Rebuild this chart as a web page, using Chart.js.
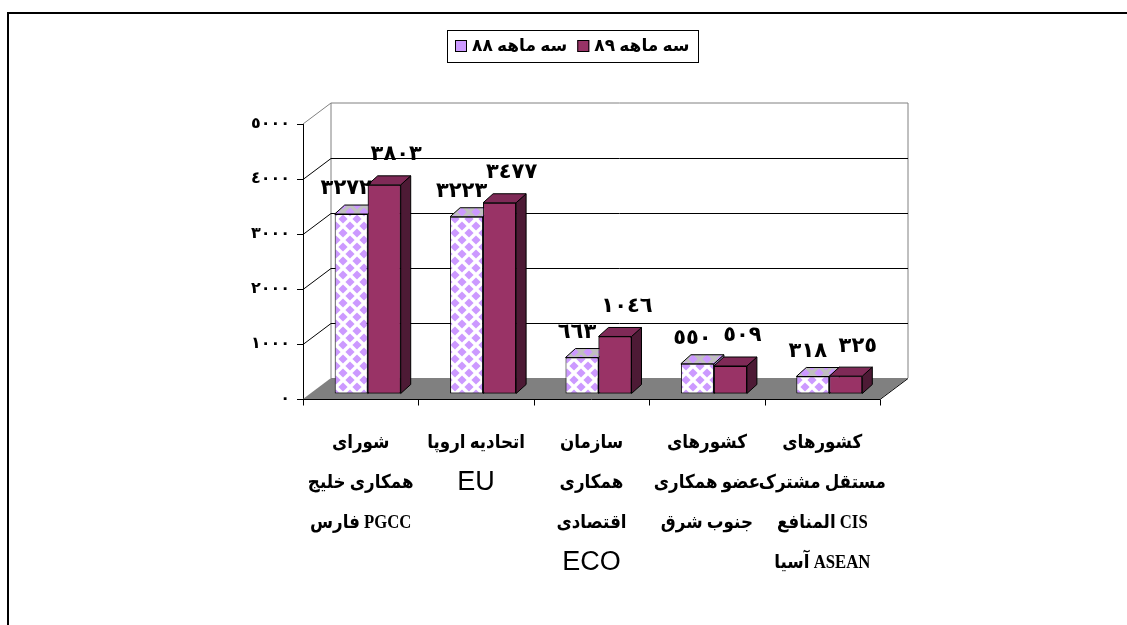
<!DOCTYPE html>
<html>
<head>
<meta charset="utf-8">
<script src="https://cdn.jsdelivr.net/npm/chart.js@4.4.0/dist/chart.umd.min.js"></script>
<style>
  html, body { margin: 0; background: #fff; }
  #wrap { width: 1127px; height: 625px; position: relative; }
</style>
</head>
<body>
<div id="wrap"><canvas id="chart"></canvas></div>
<script>
// category labels, one array of lines each
const categories = [
  ['شورای', 'همکاری خلیج', 'فارس PGCC'],
  ['اتحادیه اروپا', 'EU'],
  ['سازمان', 'همکاری', 'اقتصادی', 'ECO'],
  ['کشورهای', 'عضو همکاری', 'جنوب شرق'],
  ['کشورهای', 'مستقل مشترک', 'المنافع CIS', 'آسیا ASEAN'],
];
const seriesNames = ['سه ماهه ٨٨', 'سه ماهه ٨٩'];
const q88 = [3272, 3223, 663, 550, 318];
const q89 = [3803, 3477, 1046, 509, 325];
const yTicks = [0, 1000, 2000, 3000, 4000, 5000];

const WALL = { x: 28, y: -21 };   // depth of floor / walls
const BOX = { x: 10, y: -9 };     // depth of each bar
const SHIFT = { x: 7, y: -5 };    // bars sit half way into the floor

const SERIF = '"Liberation Serif", "DejaVu Sans", serif';
const fa = n => String(n).replace(/\d/g, d => '٠١٢٣٤٥٦٧٨٩'[d]);

const canvas = document.getElementById('chart');
const ctx0 = canvas.getContext('2d');

function diamonds(bg, fg) {
  const P = 14, R = 4.6;
  const c = document.createElement('canvas');
  c.width = P; c.height = P;
  const g = c.getContext('2d');
  g.fillStyle = bg;
  g.fillRect(0, 0, P, P);
  g.fillStyle = fg;
  [[0, 0], [P, 0], [0, P], [P, P], [P / 2, P / 2]].forEach(([x, y]) => {
    g.beginPath();
    g.moveTo(x, y - R); g.lineTo(x + R, y); g.lineTo(x, y + R); g.lineTo(x - R, y);
    g.closePath();
    g.fill();
  });
  return ctx0.createPattern(c, 'repeat');
}
const patFront = diamonds('#ffffff', '#cc99ff');
const patTop = diamonds('#c0c0c0', '#cc99ff');

const faces = [
  { front: patFront, top: patTop, side: '#9a85b8' },
  { front: '#993366', top: '#7f2a57', side: '#4d1a35' },
];

function poly(ctx, pts, fill) {
  ctx.beginPath();
  ctx.moveTo(pts[0][0], pts[0][1]);
  pts.slice(1).forEach(p => ctx.lineTo(p[0], p[1]));
  ctx.closePath();
  ctx.fillStyle = fill;
  ctx.fill();
  ctx.stroke();
}

function drawBox(ctx, el, f) {
  const l = el.x - el.width / 2, r = el.x + el.width / 2;
  const t = Math.min(el.y, el.base), b = Math.max(el.y, el.base);
  ctx.strokeStyle = '#000';
  ctx.lineWidth = 1;
  poly(ctx, [[r, t], [r + BOX.x, t + BOX.y], [r + BOX.x, b + BOX.y], [r, b]], f.side);
  poly(ctx, [[l, t], [r, t], [r + BOX.x, t + BOX.y], [l + BOX.x, t + BOX.y]], f.top);
}

// text squeezed a little so DejaVu's wide Arabic fits like the original
function squeezed(ctx, text, x, y, sx) {
  ctx.save();
  ctx.translate(x, y);
  ctx.scale(sx, 1);
  ctx.fillText(text, 0, 0);
  ctx.restore();
}

const threeD = {
  id: 'threeD',
  beforeDatasetsDraw(chart) {
    const { ctx, chartArea: a, scales: { y } } = chart;
    ctx.save();
    ctx.lineWidth = 1;
    // floor
    ctx.fillStyle = '#808080';
    ctx.beginPath();
    ctx.moveTo(a.left, a.bottom);
    ctx.lineTo(a.right, a.bottom);
    ctx.lineTo(a.right + WALL.x, a.bottom + WALL.y);
    ctx.lineTo(a.left + WALL.x, a.bottom + WALL.y);
    ctx.closePath();
    ctx.fill();
    // back wall outline
    const top = y.getPixelForValue(yTicks[yTicks.length - 1]);
    ctx.strokeStyle = '#808080';
    ctx.beginPath();
    ctx.moveTo(a.left + WALL.x, a.bottom + WALL.y);
    ctx.lineTo(a.left + WALL.x, top + WALL.y);
    ctx.lineTo(a.right + WALL.x, top + WALL.y);
    ctx.lineTo(a.right + WALL.x, a.bottom + WALL.y);
    ctx.moveTo(a.left, top);
    ctx.lineTo(a.left + WALL.x, top + WALL.y);
    ctx.stroke();
    // grid lines on side and back wall
    ctx.strokeStyle = '#000';
    yTicks.slice(1, -1).forEach(v => {
      const py = Math.round(y.getPixelForValue(v)) + 0.5;
      ctx.beginPath();
      ctx.moveTo(a.left, py);
      ctx.lineTo(a.left + WALL.x, py + WALL.y);
      ctx.lineTo(a.right + WALL.x, py + WALL.y);
      ctx.stroke();
    });
    // front category axis with ticks
    const by = Math.round(a.bottom) + 0.5;
    ctx.beginPath();
    ctx.moveTo(a.left, by);
    ctx.lineTo(a.right, by);
    ctx.lineTo(a.right + WALL.x, by + WALL.y);
    for (let i = 0; i <= categories.length; i++) {
      const px = Math.round(a.left + (a.right - a.left) * i / categories.length) + 0.5;
      ctx.moveTo(px, by);
      ctx.lineTo(px, by + 6);
    }
    ctx.stroke();
    ctx.restore();

    ctx.save();
    ctx.translate(SHIFT.x, SHIFT.y);
  },
  afterDatasetsDraw(chart) {
    const { ctx } = chart;
    const m0 = chart.getDatasetMeta(0), m1 = chart.getDatasetMeta(1);
    m0.data.forEach((el, i) => {
      drawBox(ctx, el, faces[0]);
      m1.data[i].draw(ctx);
      drawBox(ctx, m1.data[i], faces[1]);
    });
    ctx.restore();

    // value labels
    ctx.save();
    ctx.fillStyle = '#000';
    ctx.font = 'bold 21px ' + SERIF;
    ctx.textAlign = 'center';
    ctx.textBaseline = 'middle';
    [m0, m1].forEach((meta, s) => {
      const ds = chart.data.datasets[s].data;
      meta.data.forEach((el, i) => {
        ctx.fillText(fa(ds[i]), el.x + SHIFT.x + (s ? 12 : -5), el.y + SHIFT.y - (s ? 30 : 25));
      });
    });
    ctx.restore();
  },
  afterDraw(chart) {
    const { ctx, chartArea: a, scales: { x } } = chart;
    ctx.save();
    ctx.fillStyle = '#000';
    ctx.textAlign = 'center';
    ctx.textBaseline = 'middle';
    // category labels
    categories.forEach((lines, i) => {
      const cx = x.getPixelForValue(i);
      lines.forEach((ln, j) => {
        const latin = /^[A-Z]+$/.test(ln);
        ctx.font = latin ? '27px "Liberation Sans", sans-serif' : 'bold 19px ' + SERIF;
        squeezed(ctx, ln, cx, a.bottom + 44 + j * 40, latin ? 1 : 0.88);
      });
    });

    // legend
    ctx.font = 'bold 17px ' + SERIF;
    const widths = seriesNames.map(n => ctx.measureText(n).width);
    const box = 12, gap = 5, sep = 10, pad = 8;
    const total = pad * 2 + widths.reduce((s, w) => s + box + gap + w, 0) + sep;
    const lx = 572 - total / 2;
    const ly = 30, lh = 32;
    ctx.strokeStyle = '#000';
    ctx.lineWidth = 1;
    ctx.strokeRect(Math.round(lx) + 0.5, ly + 0.5, Math.round(total), lh);
    let cx = Math.round(lx) + pad;
    ctx.textAlign = 'left';
    seriesNames.forEach((n, s) => {
      ctx.fillStyle = s ? faces[1].front : '#cc99ff';
      ctx.fillRect(cx, ly + lh / 2 - box / 2, box, box);
      ctx.strokeRect(cx + 0.5, ly + lh / 2 - box / 2 + 0.5, box - 1, box - 1);
      cx += box + gap;
      ctx.fillStyle = '#000';
      ctx.fillText(n, cx, ly + lh / 2 + 1);
      cx += widths[s] + sep;
    });

    // outer frame
    ctx.lineWidth = 2;
    ctx.beginPath();
    ctx.moveTo(8, 625);
    ctx.lineTo(8, 13);
    ctx.lineTo(1127, 13);
    ctx.stroke();
    ctx.restore();
  }
};

new Chart(canvas, {
  type: 'bar',
  data: {
    labels: categories,
    datasets: [
      { label: seriesNames[0], data: q88, backgroundColor: faces[0].front, borderColor: '#000', borderWidth: 1, borderSkipped: false, clip: false },
      { label: seriesNames[1], data: q89, backgroundColor: faces[1].front, borderColor: '#000', borderWidth: 1, borderSkipped: false, clip: false },
    ],
  },
  options: {
    responsive: true,
    maintainAspectRatio: false,
    animation: false,
    categoryPercentage: 0.572,
    barPercentage: 1,
    layout: { padding: { left: 0, right: 247, top: 124, bottom: 226 } },
    plugins: { legend: { display: false }, tooltip: { enabled: false } },
    scales: {
      x: { display: false },
      y: {
        min: 0,
        max: 5000,
        afterFit: s => { s.width = 303; },
        ticks: {
          stepSize: 1000,
          color: '#000',
          padding: 7,
          font: { family: SERIF, size: 16, weight: 'bold' },
          callback: v => fa(v),
        },
        grid: { drawOnChartArea: false, tickLength: 6, color: '#000' },
        border: { color: '#000' },
      },
    },
  },
  plugins: [threeD],
});
</script>
</body>
</html>
